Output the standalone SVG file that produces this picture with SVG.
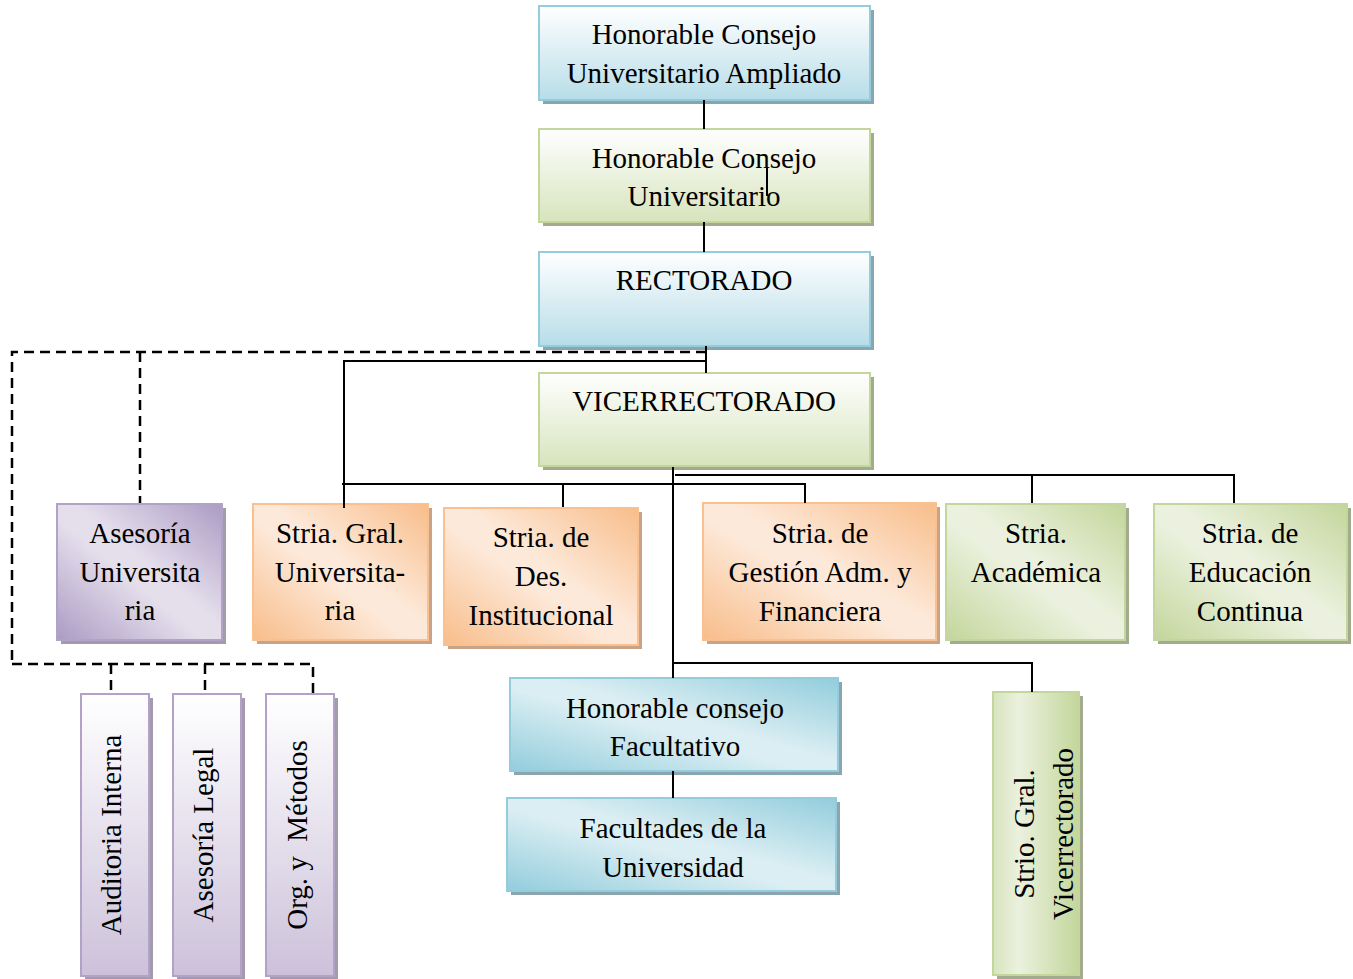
<svg xmlns="http://www.w3.org/2000/svg" width="1353" height="979" viewBox="0 0 1353 979">
<defs>
<linearGradient id="gBlueV" x1="0" y1="0" x2="0" y2="1"><stop offset="0" stop-color="#ffffff"/><stop offset="1" stop-color="#b7dde8"/></linearGradient>
<linearGradient id="gGreenV" x1="0" y1="0" x2="0" y2="1"><stop offset="0" stop-color="#ffffff"/><stop offset="1" stop-color="#d7e4bd"/></linearGradient>
<linearGradient id="gPurpleV" x1="0" y1="0" x2="0" y2="1"><stop offset="0" stop-color="#ffffff"/><stop offset="1" stop-color="#ccc1da"/></linearGradient>
<linearGradient id="gOrangeD" x1="1" y1="0" x2="0" y2="1"><stop offset="0" stop-color="#f8bd8a"/><stop offset="0.45" stop-color="#fde9d9"/><stop offset="0.55" stop-color="#fde9d9"/><stop offset="1" stop-color="#f8bd8a"/></linearGradient>
<linearGradient id="gPurpleD" x1="1" y1="0" x2="0" y2="1"><stop offset="0" stop-color="#ab9bc4"/><stop offset="0.45" stop-color="#e5dfec"/><stop offset="0.55" stop-color="#e5dfec"/><stop offset="1" stop-color="#ab9bc4"/></linearGradient>
<linearGradient id="gGreenD" x1="1" y1="0" x2="0" y2="1"><stop offset="0" stop-color="#c3d69b"/><stop offset="0.45" stop-color="#ebf1de"/><stop offset="0.55" stop-color="#ebf1de"/><stop offset="1" stop-color="#c3d69b"/></linearGradient>
<linearGradient id="gBlueD" x1="1" y1="0" x2="0" y2="1"><stop offset="0" stop-color="#92cddc"/><stop offset="0.45" stop-color="#dbeef3"/><stop offset="0.55" stop-color="#dbeef3"/><stop offset="1" stop-color="#92cddc"/></linearGradient>
<linearGradient id="gGreenH" x1="0" y1="0" x2="1" y2="0"><stop offset="0" stop-color="#d7e4bd"/><stop offset="0.3" stop-color="#ebf1de"/><stop offset="1" stop-color="#c3d69b"/></linearGradient>
</defs>
<style>
text{font-family:"Liberation Serif","Times New Roman",serif;font-size:29px;fill:#000;text-anchor:middle}
.blue{stroke:#93cddd;stroke-width:2}
.green{stroke:#c3d69b;stroke-width:2}
.orange{stroke:#fac090;stroke-width:2}
.purple{stroke:#b3a2c7;stroke-width:2}
.shB{fill:#8aa5ae}
.shG{fill:#a3ab8e}
.shO{fill:#c9a387}
.shP{fill:#a39aae}
.ln{fill:none;stroke:#000;stroke-width:2}
.dash{fill:none;stroke:#000;stroke-width:2.5;stroke-dasharray:10 6}
</style>
<g id="n1"><rect class="shB" x="543" y="10" width="331" height="94"/><rect class="blue" x="539" y="6" width="331" height="94" fill="url(#gBlueV)"/><text x="704" y="44">Honorable Consejo</text><text x="704" y="83">Universitario Ampliado</text></g>
<g id="n2"><rect class="shG" x="543" y="133" width="331" height="93"/><rect class="green" x="539" y="129" width="331" height="93" fill="url(#gGreenV)"/><text x="704" y="168">Honorable Consejo</text><text x="704" y="206">Universitario</text></g>
<g id="n3"><rect class="shB" x="543" y="256" width="331" height="94"/><rect class="blue" x="539" y="252" width="331" height="94" fill="url(#gBlueV)"/><text x="704" y="290">RECTORADO</text></g>
<g id="n4"><rect class="shG" x="543" y="377" width="331" height="93"/><rect class="green" x="539" y="373" width="331" height="93" fill="url(#gGreenV)"/><text x="704" y="411">VICERRECTORADO</text></g>
<g id="n5"><rect class="shP" x="61" y="508" width="165" height="136"/><rect class="purple" x="57" y="504" width="165" height="136" fill="url(#gPurpleD)"/><text x="140" y="543">Asesoría</text><text x="140" y="582">Universita</text><text x="140" y="620">ria</text></g>
<g id="n6"><rect class="shO" x="257" y="508" width="175" height="136"/><rect class="orange" x="253" y="504" width="175" height="136" fill="url(#gOrangeD)"/><text x="340" y="543">Stria. Gral.</text><text x="340" y="582">Universita-</text><text x="340" y="620">ria</text></g>
<g id="n7"><rect class="shO" x="448" y="512" width="194" height="137"/><rect class="orange" x="444" y="508" width="194" height="137" fill="url(#gOrangeD)"/><text x="541" y="547">Stria. de</text><text x="541" y="586">Des.</text><text x="541" y="625">Institucional</text></g>
<g id="n8"><rect class="shO" x="707" y="507" width="233" height="137"/><rect class="orange" x="703" y="503" width="233" height="137" fill="url(#gOrangeD)"/><text x="820" y="543">Stria. de</text><text x="820" y="582">Gestión Adm. y</text><text x="820" y="621">Financiera</text></g>
<g id="n9"><rect class="shG" x="950" y="508" width="179" height="136"/><rect class="green" x="946" y="504" width="179" height="136" fill="url(#gGreenD)"/><text x="1036" y="543">Stria.</text><text x="1036" y="582">Académica</text></g>
<g id="n10"><rect class="shG" x="1158" y="508" width="193" height="136"/><rect class="green" x="1154" y="504" width="193" height="136" fill="url(#gGreenD)"/><text x="1250" y="543">Stria. de</text><text x="1250" y="582">Educación</text><text x="1250" y="621">Continua</text></g>
<g id="n11"><rect class="shB" x="514" y="682" width="328" height="93"/><rect class="blue" x="510" y="678" width="328" height="93" fill="url(#gBlueD)"/><text x="675" y="718">Honorable consejo</text><text x="675" y="756">Facultativo</text></g>
<g id="n12"><rect class="shB" x="511" y="802" width="329" height="93"/><rect class="blue" x="507" y="798" width="329" height="93" fill="url(#gBlueD)"/><text x="673" y="838">Facultades de la</text><text x="673" y="877">Universidad</text></g>
<g id="n13"><rect class="shG" x="997" y="696" width="86" height="283"/><rect class="green" x="993" y="692" width="86" height="283" fill="url(#gGreenH)"/><text transform="translate(1034 834) rotate(-90)">Strio. Gral.</text><text transform="translate(1073 834) rotate(-90)">Vicerrectorado</text></g>
<g id="n14"><rect class="shP" x="85" y="698" width="68" height="282"/><rect class="purple" x="81" y="694" width="68" height="282" fill="url(#gPurpleV)"/><text transform="translate(121 835) rotate(-90)">Auditoria Interna</text></g>
<g id="n15"><rect class="shP" x="177" y="698" width="68" height="282"/><rect class="purple" x="173" y="694" width="68" height="282" fill="url(#gPurpleV)"/><text transform="translate(213 835) rotate(-90)">Asesoría Legal</text></g>
<g id="n16"><rect class="shP" x="270" y="698" width="68" height="282"/><rect class="purple" x="266" y="694" width="68" height="282" fill="url(#gPurpleV)"/><text transform="translate(307 835) rotate(-90)" xml:space="preserve">Org. y  Métodos</text></g>
<g id="connectors">
<path class="ln" d="M704 100V129M767 168V196M704 222V252M706 346V373"/>
<path class="dash" d="M706 352H12V664M140 352V503"/>
<path class="ln" d="M706 361H344V508M342 484H805V503M563 484V507"/>
<path class="ln" d="M673 467V678M675 475H1234V503M1032 475V503"/>
<path class="ln" d="M673 663H1032V692M673 771V798"/>
<path class="dash" d="M12 664H313V694M111 664V694M205 664V694"/>
</g>
</svg>
